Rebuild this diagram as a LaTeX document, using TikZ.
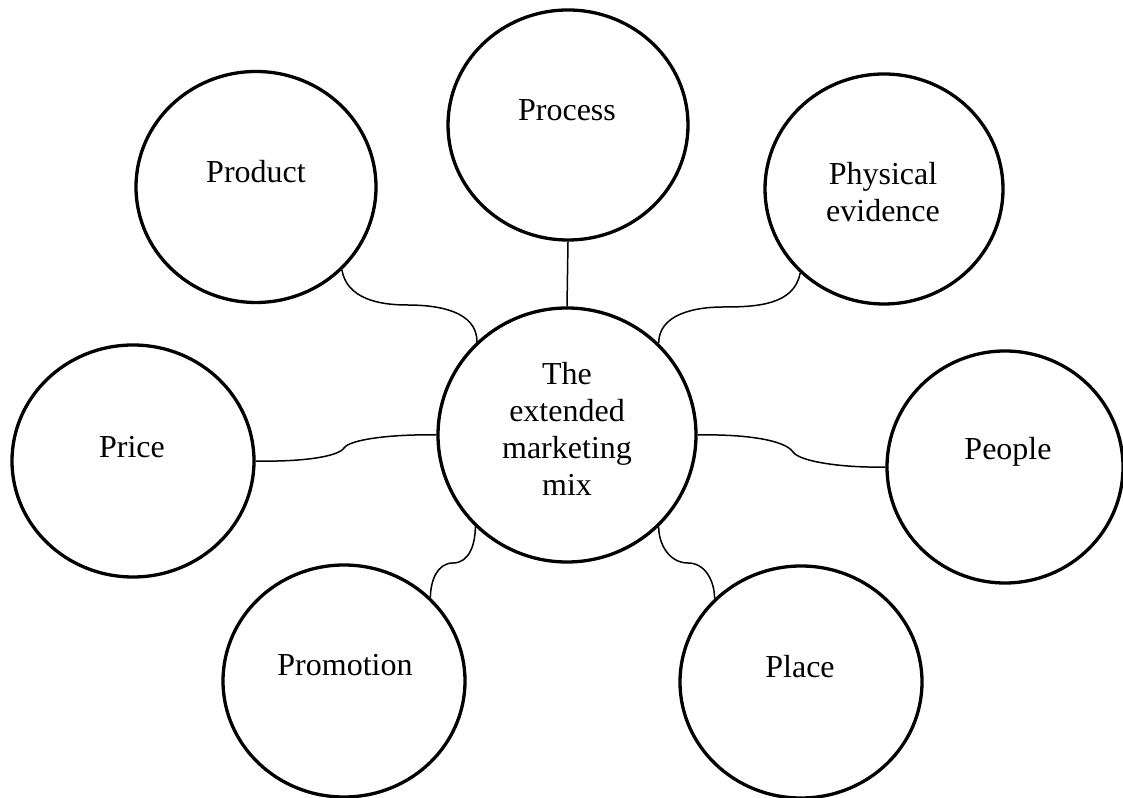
\documentclass[tikz,border=0pt]{standalone}
\usepackage{fontspec}
\setmainfont{Liberation Serif}
\usetikzlibrary{shapes.geometric}
\tikzset{
  bubble/.style={draw, ellipse, line width=3.3pt, inner sep=0pt, minimum width=#1},
  bubble/.default=240pt,
  lbl/.style={align=center, inner sep=0pt, font=\fontsize{32}{37}\selectfont},
  conn/.style={line width=1.5pt}
}
\begin{document}
\begin{tikzpicture}[x=1pt,y=1pt]
\useasboundingbox (0,0) rectangle (1123,797);
% circles
\node[bubble=240pt, minimum height=230pt] (process) at (568,672) {};
\node[bubble=240pt, minimum height=231pt] (product) at (256,610) {};
\node[bubble=238pt, minimum height=230pt] (phys) at (884,608) {};
\node[bubble=258pt, minimum height=254pt] (mix) at (567,362) {};
\node[bubble=242pt, minimum height=232pt] (price) at (133,336) {};
\node[bubble=236pt, minimum height=232pt] (people) at (1005,330) {};
\node[bubble=242pt, minimum height=232pt] (promo) at (344,116) {};
\node[bubble=242pt, minimum height=232pt] (place) at (801,115) {};
% labels
\node[lbl] (tprocess) at (567,687) {Process};
\node[lbl] (tproduct) at (256,625) {Product};
\node[lbl] (tphys) at (883,605) {Physical\\evidence};
\node[lbl] (tmix) at (567,368) {The\\extended\\marketing\\mix};
\node[lbl] (tprice) at (132,350) {Price};
\node[lbl] (tpeople) at (1008,345) {People};
\node[lbl] (tpromo) at (345,132) {Promotion};
\node[lbl] (tplace) at (800,130) {Place};
% midpoints
\coordinate (mprod) at (407,492);
\coordinate (mphys) at (723,490);
\coordinate (mprice) at (344,349);
\coordinate (mpeople) at (793,345);
\coordinate (mpromo) at (453,234);
\coordinate (mplace) at (688,234);
% connectors
\draw[conn] (process.south) -- (mix.north);
\draw[conn] (product.-44) to[out=-80,in=180] (mprod) to[out=0,in=90] (mix.134);
\draw[conn] (phys.-135) to[out=-100,in=0] (mphys) to[out=180,in=90] (mix.45);
\draw[conn] (price.east) .. controls (300,335) and (338,340) .. (mprice)
  .. controls (350,358) and (395,363) .. (mix.west);
\draw[conn] (mix.east) .. controls (745,363) and (785,357) .. (mpeople)
  .. controls (800,335) and (845,329) .. (people.west);
\draw[conn] (mix.-135) to[out=-90,in=0] (mpromo) to[out=180,in=90] (promo.44);
\draw[conn] (mix.-45) to[out=-90,in=180] (mplace) to[out=0,in=90] (place.136);
\end{tikzpicture}
\end{document}
